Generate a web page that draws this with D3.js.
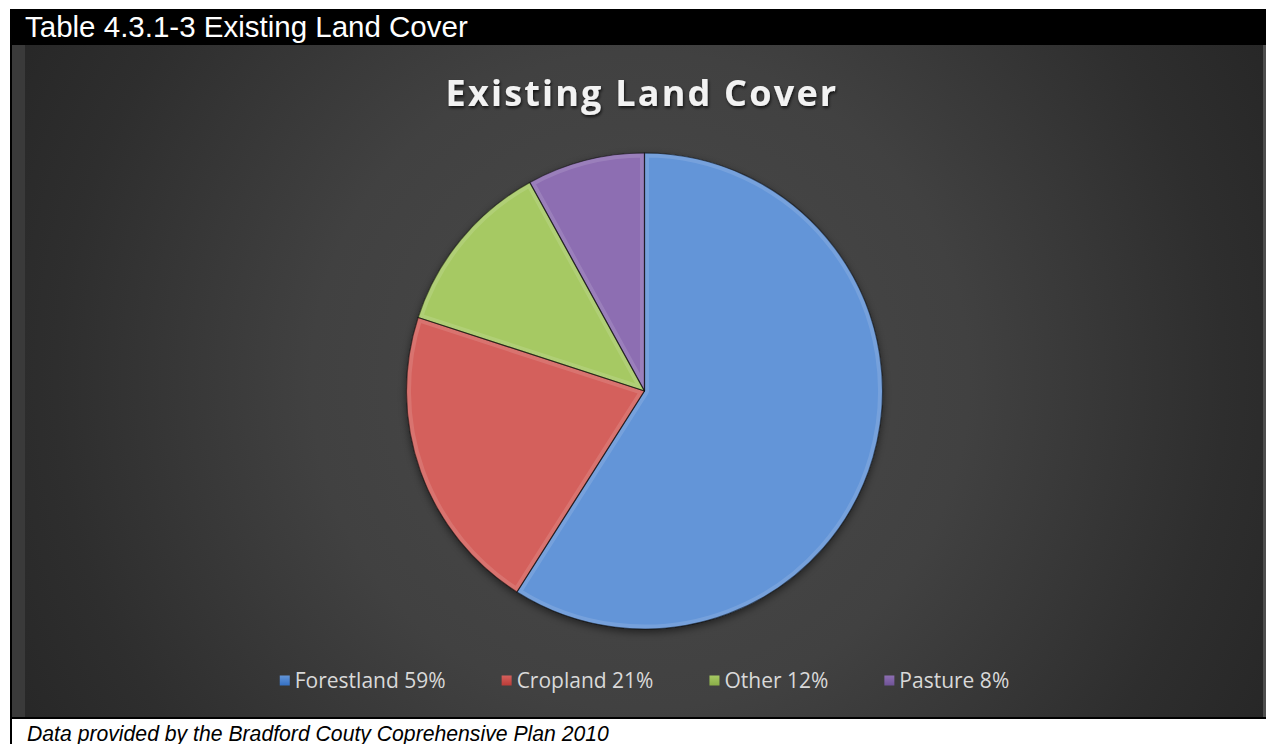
<!DOCTYPE html>
<html>
<head>
<meta charset="utf-8">
<script src="https://cdn.jsdelivr.net/npm/d3@7"></script>
<style>
  html, body { margin: 0; padding: 0; background: #fff; }
  svg { display: block; }
</style>
</head>
<body>
<script>
// data
var categories = ["Forestland", "Cropland", "Other", "Pasture"];
var shares = [59, 21, 12, 8];
var headerText = "Table 4.3.1-3 Existing Land Cover";
var chartTitle = "Existing Land Cover";
var sourceNote = "Data provided by the Bradford Couty Coprehensive Plan 2010";

// slice colours (top / bottom of the lighting gradient)
var sliceTop = ["#6395d8", "#d4605c", "#a6c963", "#8d6eb2"];
var sliceBottom = ["#3470c4", "#bb3c38", "#8aae48", "#6f5397"];

var width = 1266, height = 744;
var cx = 644.5, cy = 391, radius = 238;

var svg = d3.select("body").append("svg")
  .attr("width", width)
  .attr("height", height);

var defs = svg.append("defs");

var bg = defs.append("radialGradient")
  .attr("id", "bg")
  .attr("gradientUnits", "userSpaceOnUse")
  .attr("cx", 640).attr("cy", 380).attr("r", 730);
bg.append("stop").attr("offset", 0).attr("stop-color", "#4a4a4a");
bg.append("stop").attr("offset", 0.45).attr("stop-color", "#414141");
bg.append("stop").attr("offset", 0.8).attr("stop-color", "#2e2e2e");
bg.append("stop").attr("offset", 1).attr("stop-color", "#262626");

var shadow = defs.append("filter").attr("id", "pieShadow")
  .attr("x", "-20%").attr("y", "-20%").attr("width", "140%").attr("height", "140%");
shadow.append("feDropShadow")
  .attr("dx", 0).attr("dy", 3).attr("stdDeviation", 4)
  .attr("flood-color", "#000").attr("flood-opacity", 0.55);

var titleShadow = defs.append("filter").attr("id", "titleShadow")
  .attr("x", "-10%").attr("y", "-30%").attr("width", "120%").attr("height", "160%");
titleShadow.append("feDropShadow")
  .attr("dx", 1).attr("dy", 2).attr("stdDeviation", 1.5)
  .attr("flood-color", "#000").attr("flood-opacity", 0.7);

categories.forEach(function(c, i) {
  var g = defs.append("linearGradient")
    .attr("id", "slice" + i)
    .attr("gradientUnits", "userSpaceOnUse")
    .attr("x1", cx - radius * 0.4).attr("y1", cy - radius)
    .attr("x2", cx + radius * 0.4).attr("y2", cy + radius);
  g.append("stop").attr("offset", 0).attr("stop-color", sliceTop[i]);
  g.append("stop").attr("offset", 1).attr("stop-color", sliceBottom[i]);

  var lg = defs.append("linearGradient").attr("id", "leg" + i)
    .attr("x1", 0).attr("y1", 0).attr("x2", 0).attr("y2", 1);
  lg.append("stop").attr("offset", 0).attr("stop-color", sliceTop[i]);
  lg.append("stop").attr("offset", 1).attr("stop-color", sliceBottom[i]);
});

// frame: header bar, chart panel, borders
svg.append("rect").attr("x", 10).attr("y", 9).attr("width", width - 10).attr("height", 36).attr("fill", "#000");
svg.append("rect").attr("x", 12).attr("y", 45).attr("width", width - 12).attr("height", 672).attr("fill", "url(#bg)");
svg.append("rect").attr("x", 12).attr("y", 45).attr("width", 13).attr("height", 672).attr("fill", "#3a3a3a");
svg.append("rect").attr("x", 1263).attr("y", 45).attr("width", 3).attr("height", 672).attr("fill", "#4e4e4e");
svg.append("rect").attr("x", 10).attr("y", 45).attr("width", 2).attr("height", height - 45).attr("fill", "#000");
svg.append("rect").attr("x", 10).attr("y", 717).attr("width", width - 10).attr("height", 2).attr("fill", "#000");

svg.append("text")
  .attr("x", 25).attr("y", 37)
  .attr("fill", "#fff")
  .style("font-family", "Arial, 'Liberation Sans', sans-serif")
  .style("font-size", "29.5px")
  .text(headerText);

svg.append("text")
  .attr("x", 27).attr("y", 741)
  .attr("fill", "#000")
  .style("font-family", "Arial, 'Liberation Sans', sans-serif")
  .style("font-style", "italic")
  .style("font-size", "21.2px")
  .text(sourceNote);

svg.append("text")
  .attr("x", 642).attr("y", 106)
  .attr("text-anchor", "middle")
  .attr("fill", "#f2f2f2")
  .attr("filter", "url(#titleShadow)")
  .style("font-family", "'Open Sans', sans-serif")
  .style("font-weight", 700)
  .style("font-size", "36px")
  .style("letter-spacing", "2.2px")
  .text(chartTitle);

// pie
var pie = d3.pie().sort(null).value(function(d) { return d; });
var arc = d3.arc().innerRadius(0).outerRadius(radius);
var arcs = pie(shares);

var pieG = svg.append("g").attr("transform", "translate(" + cx + "," + cy + ")");

pieG.append("g").attr("filter", "url(#pieShadow)")
  .selectAll("path").data(arcs).enter().append("path")
  .attr("d", arc)
  .attr("fill", function(d, i) { return "url(#slice" + i + ")"; });

pieG.selectAll("clipPath.sc").data(arcs).enter().append("clipPath")
  .attr("class", "sc")
  .attr("id", function(d, i) { return "clip" + i; })
  .append("path").attr("d", arc);

// bevel: light inner band + dark outline
pieG.append("g").selectAll("path").data(arcs).enter().append("path")
  .attr("d", arc)
  .attr("fill", "none")
  .attr("stroke", "#fff")
  .attr("stroke-opacity", 0.12)
  .attr("stroke-width", 9)
  .attr("stroke-linejoin", "round")
  .attr("clip-path", function(d, i) { return "url(#clip" + i + ")"; });

pieG.append("g").selectAll("path").data(arcs).enter().append("path")
  .attr("d", arc)
  .attr("fill", "none")
  .attr("stroke", "#000")
  .attr("stroke-opacity", 0.5)
  .attr("stroke-width", 1.2)
  .attr("stroke-linejoin", "round");

// legend
var legend = svg.append("g");
var items = legend.selectAll("g").data(categories).enter().append("g");

items.append("rect")
  .attr("width", 10).attr("height", 10)
  .attr("y", -12.5)
  .attr("fill", function(d, i) { return "url(#leg" + i + ")"; });

items.append("text")
  .attr("x", 15)
  .attr("fill", "#d9d9d9")
  .style("font-family", "'Open Sans', sans-serif")
  .style("font-size", "21px")
  .text(function(d, i) { return d + " " + shares[i] + "%"; });

var gap = 56, x = 0, offsets = [];
items.each(function() {
  offsets.push(x);
  x += 15 + this.querySelector("text").getComputedTextLength() + gap;
});
var total = x - gap;
var start = cx - total / 2;
items.attr("transform", function(d, i) { return "translate(" + (start + offsets[i]) + ",688)"; });
</script>
</body>
</html>
